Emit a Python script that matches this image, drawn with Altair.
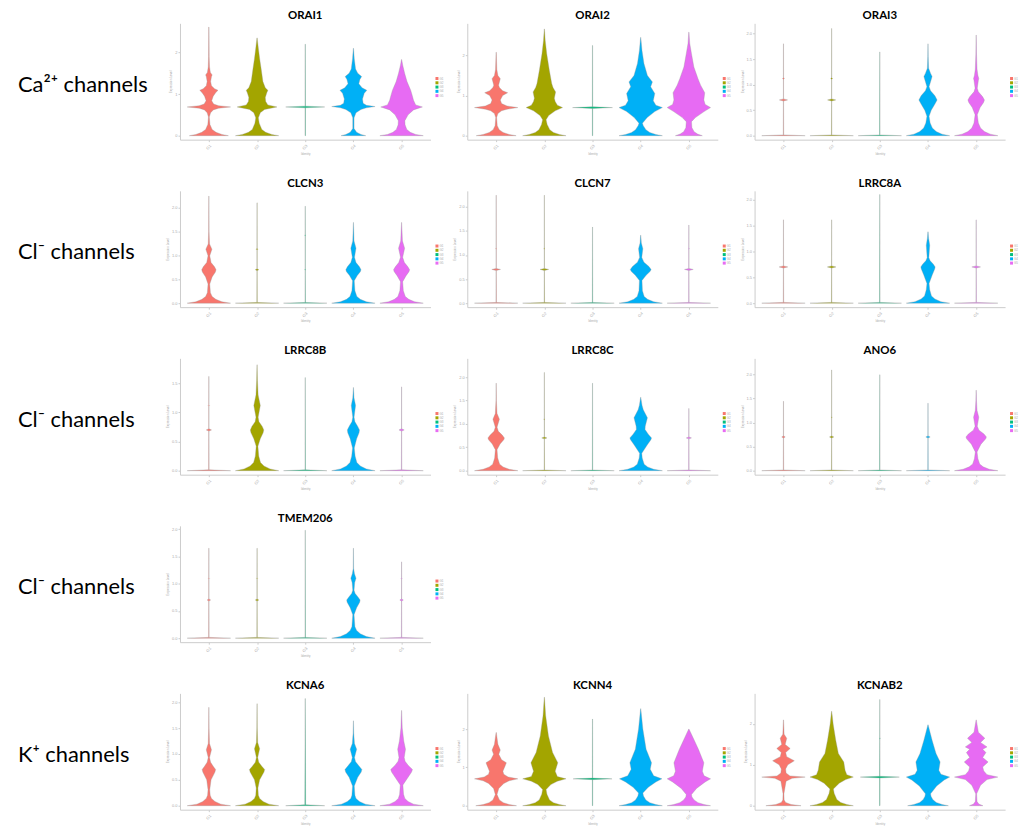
import altair as alt
import pandas as pd

GROUPS = ["G1", "G2", "G3", "G4", "G5"]
COLORS = ["#F8766D", "#A3A500", "#00BF7D", "#00B0F6", "#E76BF3"]

ROW_LABELS = ["Ca²⁺ channels", "Cl⁻ channels", "Cl⁻ channels", "Cl⁻ channels", "K⁺ channels"]
ROWS = [["ORAI1", "ORAI2", "ORAI3"],
        ["CLCN3", "CLCN7", "LRRC8A"],
        ["LRRC8B", "LRRC8C", "ANO6"],
        ["TMEM206"],
        ["KCNA6", "KCNN4", "KCNAB2"]]

# axis top (expression level) and tick step per gene
Y_TOP = {"ORAI1": 2.70, "ORAI2": 2.80, "ORAI3": 2.20, "CLCN3": 2.35, "CLCN7": 2.33,
         "LRRC8A": 2.17, "LRRC8B": 1.93, "LRRC8C": 2.40, "ANO6": 2.33, "TMEM206": 2.06,
         "KCNA6": 2.17, "KCNN4": 2.93, "KCNAB2": 2.75}
Y_STEP = {"ORAI1": 1, "ORAI2": 1, "ORAI3": 0.5, "CLCN3": 0.5, "CLCN7": 0.5,
          "LRRC8A": 0.5, "LRRC8B": 0.5, "LRRC8C": 0.5, "ANO6": 0.5, "TMEM206": 0.5,
          "KCNA6": 0.5, "KCNN4": 1, "KCNAB2": 1}

# violin profiles: (expression level, relative width) knots, one list per identity
ORAI1 = [
    [(0, .9), (.03, .6), (.08, .33), (.15, .15), (.27, .05), (.45, .02), (.55, .08), (.62, .2), (.66, .45), (.69, 1.0), (.72, .45), (.76, .22), (.84, .13), (.95, .2), (1.04, .32), (1.09, .42), (1.13, .26), (1.2, .12), (1.3, .08), (1.42, .12), (1.46, .15), (1.52, .07), (1.65, .03), (1.9, .015), (2.61, .005)],
    [(0, 1.0), (.03, .68), (.08, .4), (.15, .22), (.3, .1), (.43, .06), (.55, .15), (.63, .35), (.69, .92), (.74, .5), (.82, .4), (.92, .38), (1.03, .45), (1.09, .5), (1.15, .38), (1.3, .27), (1.6, .19), (1.85, .12), (2.1, .06), (2.35, .005)],
    [(0, .01), (.67, .01), (.69, .9), (.71, .01), (2.2, .005)],
    [(0, .57), (.03, .35), (.08, .15), (.17, .03), (.43, .03), (.55, .12), (.63, .35), (.67, .6), (.7, 1.0), (.73, .6), (.78, .45), (.88, .42), (1.02, .5), (1.09, .62), (1.15, .4), (1.25, .25), (1.35, .3), (1.42, .38), (1.5, .2), (1.6, .1), (1.85, .04), (2.1, .005)],
    [(0, 1.0), (.03, .65), (.08, .4), (.15, .24), (.26, .16), (.36, .15), (.5, .3), (.62, .55), (.69, .96), (.74, .65), (.85, .55), (.95, .5), (1.09, .42), (1.3, .25), (1.5, .14), (1.7, .05), (1.83, .005)],
]
ORAI2 = [
    [(0, .92), (.03, .6), (.08, .32), (.15, .14), (.25, .05), (.45, .02), (.55, .08), (.62, .25), (.66, .5), (.7, 1.0), (.74, .5), (.8, .25), (.89, .19), (1.0, .3), (1.07, .53), (1.12, .3), (1.2, .15), (1.26, .11), (1.42, .19), (1.5, .08), (1.65, .03), (2.08, .005)],
    [(0, 1.0), (.03, .7), (.08, .42), (.15, .25), (.28, .13), (.4, .08), (.5, .2), (.62, .5), (.7, .84), (.76, .6), (.85, .5), (.93, .46), (1.09, .52), (1.2, .4), (1.3, .34), (1.63, .23), (2.04, .11), (2.37, .04), (2.66, .005)],
    [(0, .01), (.68, .01), (.7, .92), (.72, .01), (2.25, .005)],
    [(0, 1.0), (.03, .7), (.08, .42), (.15, .24), (.25, .12), (.31, .08), (.45, .3), (.6, .65), (.7, 1.0), (.76, .7), (.87, .58), (1.05, .65), (1.22, .46), (1.34, .54), (1.5, .31), (1.8, .15), (2.12, .06), (2.45, .005)],
    [(0, .62), (.04, .4), (.1, .24), (.2, .14), (.35, .12), (.45, .3), (.6, .7), (.7, 1.0), (.78, .75), (.89, .69), (1.07, .73), (1.26, .54), (1.42, .42), (1.71, .23), (2.04, .12), (2.3, .04), (2.58, .005)],
]
ORAI3 = [
    [(0, 1.0), (.015, .01), (.68, .005), (.7, .19), (.72, .005), (1.1, .005), (1.12, .04), (1.14, .005), (1.8, .003)],
    [(0, 1.0), (.015, .01), (.68, .005), (.7, .19), (.72, .005), (1.1, .005), (1.12, .04), (1.14, .005), (2.1, .003)],
    [(0, 1.0), (.015, .01), (1.64, .003)],
    [(0, 1.0), (.03, .65), (.08, .38), (.15, .2), (.25, .1), (.38, .05), (.5, .15), (.62, .32), (.7, .42), (.78, .32), (.88, .12), (.96, .05), (1.1, .15), (1.16, .19), (1.22, .12), (1.32, .03), (1.55, .01), (1.8, .003)],
    [(0, 1.0), (.03, .65), (.08, .38), (.15, .2), (.25, .1), (.41, .05), (.55, .18), (.65, .34), (.7, .38), (.76, .3), (.86, .1), (.93, .05), (1.08, .1), (1.12, .12), (1.18, .08), (1.3, .04), (1.6, .015), (1.97, .003)],
]
CLCN3 = [
    [(0, 1.0), (.03, .6), (.08, .32), (.14, .15), (.22, .07), (.4, .04), (.55, .15), (.65, .3), (.7, .33), (.76, .26), (.85, .1), (.99, .04), (1.13, .14), (1.24, .03), (1.5, .01), (2.24, .003)],
    [(0, 1.0), (.015, .01), (.68, .005), (.7, .08), (.72, .005), (1.11, .005), (1.13, .04), (1.15, .005), (2.1, .003)],
    [(0, 1.0), (.015, .01), (.69, .005), (.7, .03), (.71, .005), (1.41, .005), (1.42, .03), (1.43, .005), (2.03, .003)],
    [(0, 1.0), (.03, .6), (.08, .32), (.14, .16), (.26, .07), (.47, .04), (.58, .18), (.66, .32), (.7, .35), (.76, .28), (.85, .12), (.96, .05), (1.15, .12), (1.3, .03), (1.69, .003)],
    [(0, 1.0), (.03, .6), (.08, .33), (.14, .17), (.26, .08), (.45, .05), (.57, .2), (.66, .34), (.7, .37), (.76, .29), (.85, .13), (.96, .05), (1.15, .14), (1.3, .04), (1.69, .003)],
]
CLCN7 = [
    [(0, 1.0), (.015, .01), (.68, .005), (.7, .2), (.72, .005), (1.12, .005), (1.13, .03), (1.14, .005), (2.24, .003)],
    [(0, 1.0), (.015, .01), (.68, .005), (.7, .2), (.72, .005), (1.12, .005), (1.13, .03), (1.14, .005), (2.24, .003)],
    [(0, 1.0), (.015, .01), (1.58, .003)],
    [(0, 1.0), (.03, .6), (.08, .32), (.14, .16), (.26, .08), (.47, .06), (.58, .25), (.66, .44), (.7, .48), (.76, .38), (.85, .15), (.95, .05), (1.13, .1), (1.25, .03), (1.41, .005)],
    [(0, 1.0), (.015, .01), (.68, .005), (.7, .2), (.72, .005), (1.12, .005), (1.13, .03), (1.14, .005), (1.62, .003)],
]
LRRC8A = [
    [(0, 1.0), (.015, .01), (.68, .005), (.7, .2), (.72, .005), (1.61, .003)],
    [(0, 1.0), (.015, .01), (.68, .005), (.7, .2), (.72, .005), (1.61, .003)],
    [(0, 1.0), (.015, .01), (2.1, .003)],
    [(0, 1.0), (.03, .6), (.08, .32), (.14, .16), (.26, .08), (.38, .05), (.55, .2), (.66, .31), (.7, .33), (.75, .25), (.82, .1), (.88, .04), (1.12, .08), (1.25, .03), (1.38, .005)],
    [(0, 1.0), (.015, .01), (.68, .005), (.7, .2), (.72, .005), (1.61, .003)],
]
LRRC8B = [
    [(0, 1.0), (.015, .01), (.68, .005), (.7, .12), (.72, .005), (1.11, .005), (1.12, .03), (1.13, .005), (1.62, .003)],
    [(0, 1.0), (.03, .6), (.08, .32), (.14, .16), (.25, .08), (.42, .04), (.55, .15), (.65, .28), (.7, .31), (.76, .24), (.84, .09), (.92, .05), (1.12, .15), (1.3, .05), (1.55, .02), (1.82, .003)],
    [(0, 1.0), (.015, .01), (1.6, .003)],
    [(0, 1.0), (.03, .6), (.08, .32), (.14, .16), (.25, .08), (.39, .04), (.55, .15), (.65, .26), (.7, .28), (.76, .2), (.84, .07), (.92, .03), (1.12, .1), (1.25, .03), (1.43, .003)],
    [(0, 1.0), (.015, .01), (.68, .005), (.7, .12), (.72, .005), (1.44, .003)],
]
LRRC8C = [
    [(0, 1.0), (.03, .6), (.08, .32), (.14, .16), (.27, .07), (.45, .04), (.57, .18), (.66, .35), (.7, .38), (.76, .28), (.84, .1), (.93, .04), (1.1, .15), (1.22, .04), (1.5, .01), (1.87, .003)],
    [(0, 1.0), (.015, .01), (.68, .005), (.7, .12), (.72, .005), (1.09, .005), (1.1, .03), (1.11, .005), (2.1, .003)],
    [(0, 1.0), (.015, .01), (1.87, .003)],
    [(0, 1.0), (.03, .6), (.08, .32), (.14, .16), (.27, .07), (.37, .05), (.55, .3), (.66, .47), (.7, .5), (.78, .35), (.88, .2), (.95, .21), (1.13, .31), (1.3, .12), (1.4, .06), (1.57, .003)],
    [(0, 1.0), (.015, .01), (.68, .005), (.7, .12), (.72, .005), (1.33, .003)],
]
ANO6 = [
    [(0, 1.0), (.015, .01), (.68, .005), (.7, .08), (.72, .005), (1.44, .003)],
    [(0, 1.0), (.015, .01), (.68, .005), (.7, .1), (.72, .005), (1.1, .005), (1.11, .03), (1.12, .005), (2.09, .003)],
    [(0, 1.0), (.015, .01), (1.99, .003)],
    [(0, 1.0), (.015, .01), (.68, .005), (.7, .1), (.72, .005), (1.4, .003)],
    [(0, 1.0), (.03, .6), (.08, .32), (.14, .16), (.25, .08), (.39, .04), (.55, .22), (.66, .44), (.7, .47), (.76, .36), (.84, .13), (.92, .05), (1.11, .12), (1.25, .04), (1.45, .015), (1.67, .003)],
]
TMEM206 = [
    [(0, 1.0), (.015, .01), (.68, .005), (.7, .08), (.72, .005), (1.09, .005), (1.1, .03), (1.11, .005), (1.65, .003)],
    [(0, 1.0), (.015, .01), (.68, .005), (.7, .08), (.72, .005), (1.09, .005), (1.1, .03), (1.11, .005), (1.65, .003)],
    [(0, 1.0), (.015, .01), (1.98, .003)],
    [(0, 1.0), (.03, .6), (.08, .32), (.14, .15), (.21, .07), (.43, .03), (.56, .15), (.66, .29), (.7, .31), (.75, .22), (.82, .08), (.88, .03), (1.02, .06), (1.1, .12), (1.18, .05), (1.28, .01), (1.65, .003)],
    [(0, 1.0), (.015, .01), (.68, .005), (.7, .08), (.72, .005), (1.09, .005), (1.1, .03), (1.11, .005), (1.4, .003)],
]
KCNA6 = [
    [(0, 1.0), (.03, .55), (.08, .28), (.14, .12), (.2, .06), (.31, .04), (.5, .1), (.65, .28), (.7, .31), (.76, .2), (.84, .08), (.93, .03), (1.08, .12), (1.2, .03), (1.5, .01), (1.9, .003)],
    [(0, 1.0), (.03, .55), (.08, .28), (.14, .12), (.2, .06), (.34, .04), (.5, .12), (.65, .32), (.7, .35), (.76, .22), (.84, .08), (.93, .03), (1.1, .12), (1.22, .03), (1.5, .01), (1.97, .003)],
    [(0, .9), (.02, .02), (2.07, .003)],
    [(0, 1.0), (.03, .55), (.08, .28), (.14, .12), (.2, .07), (.38, .04), (.55, .2), (.65, .36), (.7, .39), (.77, .25), (.85, .1), (.93, .05), (1.09, .15), (1.2, .05), (1.4, .015), (1.64, .003)],
    [(0, 1.0), (.03, .55), (.08, .3), (.14, .15), (.22, .09), (.4, .06), (.55, .3), (.65, .46), (.7, .5), (.78, .3), (.86, .16), (.93, .12), (1.09, .18), (1.25, .1), (1.5, .03), (1.84, .003)],
]
KCNN4 = [
    [(0, .94), (.03, .6), (.08, .33), (.15, .15), (.29, .04), (.45, .12), (.58, .35), (.65, .6), (.7, 1.0), (.75, .55), (.82, .35), (.9, .31), (1.05, .42), (1.12, .47), (1.2, .25), (1.34, .12), (1.45, .19), (1.6, .08), (1.91, .005)],
    [(0, 1.0), (.03, .7), (.08, .42), (.15, .24), (.3, .12), (.42, .08), (.55, .3), (.64, .6), (.7, 1.0), (.76, .6), (.9, .5), (1.12, .62), (1.39, .38), (1.82, .19), (2.35, .06), (2.83, .005)],
    [(0, .01), (.68, .01), (.7, .9), (.72, .01), (2.26, .005)],
    [(0, 1.0), (.03, .7), (.08, .42), (.15, .24), (.25, .13), (.33, .1), (.48, .35), (.62, .7), (.7, .98), (.78, .6), (.95, .44), (1.12, .5), (1.47, .25), (2.0, .1), (2.53, .005)],
    [(0, 1.0), (.03, .7), (.08, .42), (.15, .24), (.23, .14), (.29, .12), (.45, .35), (.62, .75), (.7, 1.0), (.78, .7), (.9, .62), (1.12, .69), (1.47, .44), (1.74, .22), (2.0, .005)],
]
KCNAB2 = [
    [(0, .81), (.03, .35), (.08, .1), (.14, .03), (.29, .02), (.6, .12), (.67, .4), (.7, 1.0), (.73, .3), (.8, .12), (.9, .1), (1.0, .2), (1.1, .5), (1.2, .15), (1.3, .1), (1.4, .31), (1.5, .08), (1.65, .15), (1.75, .03), (2.1, .005)],
    [(0, 1.0), (.03, .7), (.08, .42), (.15, .24), (.3, .12), (.41, .08), (.55, .35), (.64, .65), (.7, 1.0), (.76, .7), (.87, .62), (1.07, .56), (1.28, .31), (1.6, .19), (2.0, .07), (2.31, .005)],
    [(0, .01), (.68, .01), (.7, .9), (.72, .01), (1.64, .005), (1.65, .03), (1.66, .005), (2.6, .003)],
    [(0, .94), (.03, .65), (.08, .38), (.15, .22), (.23, .14), (.29, .12), (.48, .4), (.63, .75), (.7, 1.0), (.77, .6), (.87, .5), (1.07, .56), (1.28, .37), (1.6, .19), (1.98, .005)],
    [(0, .31), (.04, .12), (.1, .04), (.29, .02), (.5, .2), (.64, .5), (.7, 1.0), (.76, .5), (.85, .35), (.95, .3), (1.07, .55), (1.18, .3), (1.3, .45), (1.38, .3), (1.44, .5), (1.55, .2), (1.65, .4), (1.8, .1), (2.1, .005)],
]

PROFILES = {"ORAI1": ORAI1, "ORAI2": ORAI2, "ORAI3": ORAI3, "CLCN3": CLCN3, "CLCN7": CLCN7,
            "LRRC8A": LRRC8A, "LRRC8B": LRRC8B, "LRRC8C": LRRC8C, "ANO6": ANO6,
            "TMEM206": TMEM206, "KCNA6": KCNA6, "KCNN4": KCNN4, "KCNAB2": KCNAB2}

records = []
for gene, groups in PROFILES.items():
    for gi, knots in enumerate(groups):
        for y, w in knots:
            records.append({"gene": gene, "group": GROUPS[gi], "gi": gi + 1, "y": y, "w": w})
df = pd.DataFrame(records)

PW, PH = 252, 117
LW = 136
FONT = "Lato"
label_expr = "[" + ",".join("'%s'" % g for g in GROUPS) + "][datum.value-1]"


def panel(gene):
    ytop = Y_TOP[gene]
    step = Y_STEP[gene]
    ticks = []
    t = 0.0
    while t <= ytop + 1e-9:
        ticks.append(round(t, 2))
        t += step
    sub = df[df.gene == gene]
    return alt.Chart(sub).transform_calculate(
        xl="datum.gi - 0.45*datum.w", xr="datum.gi + 0.45*datum.w"
    ).mark_area(orient="horizontal", stroke="#9a9a9a", strokeWidth=0.4,
                strokeOpacity=0.85, fillOpacity=1).encode(
        y=alt.Y("y:Q", scale=alt.Scale(domain=[-ytop * 4 / 113, ytop], nice=False, zero=False),
                axis=alt.Axis(values=ticks, labelFontSize=4, labelColor="#aaa", tickColor="#ccc",
                              domainColor="#ccc", tickSize=2, labelPadding=1, grid=False,
                              title="Expression Level", titleFontSize=3, titleColor="#aaa",
                              titleFontWeight="normal", titlePadding=2)),
        x=alt.X("xl:Q", scale=alt.Scale(domain=[0.4, 5.6], nice=False, zero=False),
                axis=alt.Axis(values=[1, 2, 3, 4, 5], labelExpr=label_expr, labelAngle=-45,
                              labelFontSize=4, labelColor="#aaa", tickColor="#ccc",
                              domainColor="#ccc", tickSize=2, labelPadding=2, grid=False,
                              title="Identity", titleFontSize=3, titleColor="#aaa",
                              titleFontWeight="normal", titlePadding=2)),
        x2="xr:Q",
        color=alt.Color("group:N", scale=alt.Scale(domain=GROUPS, range=COLORS),
                        legend=alt.Legend(orient="none", legendX=PW + 5, legendY=54, title=None,
                                          symbolType="square", symbolSize=9, symbolStrokeWidth=0,
                                          labelFontSize=3, labelColor="#aaa", rowPadding=0.3,
                                          labelOffset=1, padding=0)),
    ).properties(width=PW, height=PH,
                 title=alt.TitleParams(gene, fontSize=11.5, font=FONT, fontWeight="bold",
                                       anchor="middle", offset=1.5, color="black"))


def row_label(text):
    return alt.Chart(pd.DataFrame({"t": [text]})).mark_text(
        align="left", baseline="middle", fontSize=22, font=FONT, color="black"
    ).encode(text="t:N", x=alt.value(10), y=alt.value(62)).properties(width=LW, height=PH)


def blank():
    return alt.Chart(pd.DataFrame({"t": [""]})).mark_text().encode(
        text="t:N").properties(width=PW, height=PH)


cells = []
for label, genes in zip(ROW_LABELS, ROWS):
    cells.append(row_label(label))
    for g in genes:
        cells.append(panel(g))
    for _ in range(3 - len(genes)):
        cells.append(blank())

chart = alt.concat(*cells, columns=4, spacing={"row": 51.5, "column": 37}, bounds="flush",
                   align="each", padding=0).resolve_scale(
    color="independent").configure_view(stroke=None)

chart.save("out.html", embed_options={"renderer": "svg", "actions": False})
